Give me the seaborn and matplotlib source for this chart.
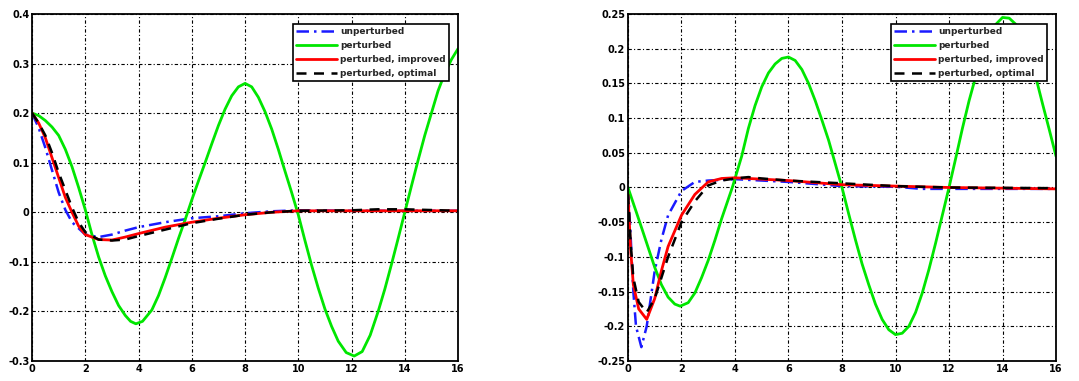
import numpy as np
import pandas as pd
import matplotlib
matplotlib.use("Agg")
import matplotlib.pyplot as plt
import seaborn as sns

# ---------------- data ----------------
# Left panel
L_green_t = [0, 0.25, 0.5, 0.75, 1.0, 1.25, 1.5, 1.75, 2.0, 2.25, 2.5, 2.75, 3.0, 3.25, 3.5, 3.7, 3.9, 4.15, 4.5,
             4.75, 5.0, 5.25, 5.5, 5.75, 6.0, 6.25, 6.5, 6.75, 7.0, 7.25, 7.5, 7.75, 8.0, 8.25, 8.5, 8.75, 9.0, 9.25,
             9.5, 9.75, 10.0, 10.25, 10.5, 10.75, 11.0, 11.25, 11.5, 11.8, 12.1, 12.4, 12.7, 13.0, 13.25, 13.5,
             13.75, 14.0, 14.25, 14.5, 14.75, 15.0, 15.25, 15.5, 15.75, 16.0]
L_green_y = [0.2, 0.195, 0.185, 0.172, 0.155, 0.127, 0.092, 0.05, 0.005, -0.045, -0.09, -0.128, -0.16, -0.188,
             -0.208, -0.22, -0.225, -0.22, -0.197, -0.168, -0.132, -0.093, -0.053, -0.015, 0.025, 0.063, 0.1, 0.138,
             0.175, 0.208, 0.235, 0.253, 0.26, 0.253, 0.232, 0.203, 0.168, 0.127, 0.083, 0.04, -0.005, -0.057,
             -0.107, -0.153, -0.195, -0.23, -0.26, -0.283, -0.29, -0.281, -0.248, -0.2, -0.155, -0.105, -0.053, 0.0,
             0.053, 0.105, 0.155, 0.2, 0.245, 0.28, 0.308, 0.33]

L_blue_t = [0, 0.25, 0.5, 0.75, 1.0, 1.25, 1.5, 2.0, 2.5, 3.0, 3.5, 4.0, 5.0, 6.0, 7.0, 8.0, 9.0, 10.0, 12.0, 14.0, 16.0]
L_blue_y = [0.2, 0.17, 0.13, 0.085, 0.04, 0.005, -0.02, -0.045, -0.05, -0.045, -0.037, -0.03, -0.02, -0.012, -0.008,
            -0.002, 0.002, 0.004, 0.003, 0.003, 0.003]

L_red_t = [0, 0.25, 0.5, 0.75, 1.0, 1.25, 1.5, 1.75, 2.0, 2.5, 3.0, 3.5, 4.0, 5.0, 6.0, 7.0, 8.0, 9.0, 10.0, 12.0, 14.0,
           16.0]
L_red_y = [0.2, 0.18, 0.15, 0.11, 0.07, 0.03, 0.0, -0.028, -0.045, -0.055, -0.056, -0.05, -0.043, -0.03, -0.02,
           -0.012, -0.005, 0.0, 0.003, 0.003, 0.003, 0.003]

L_black_t = [0, 0.25, 0.5, 0.75, 1.0, 1.25, 1.5, 1.75, 2.0, 2.5, 3.0, 3.5, 4.0, 5.0, 6.0, 7.0, 8.0, 9.0, 10.0, 12.0,
             13.0, 14.0, 16.0]
L_black_y = [0.2, 0.18, 0.155, 0.12, 0.08, 0.045, 0.01, -0.02, -0.04, -0.055, -0.057, -0.055, -0.048, -0.035,
             -0.022, -0.013, -0.005, 0.0, 0.003, 0.004, 0.006, 0.006, 0.003]

# Right panel
R_green_t = [0, 0.5, 1.0, 1.25, 1.5, 1.75, 1.95, 2.25, 2.5, 2.75, 3.0, 3.25, 3.5, 3.9, 4.25, 4.5, 4.75, 5.0, 5.25,
             5.5, 5.75, 6.0, 6.25, 6.5, 6.75, 7.0, 7.25, 7.5, 8.0, 8.25, 8.5, 8.75, 9.0, 9.25, 9.5, 9.75, 10.0,
             10.25, 10.5, 10.75, 11.0, 11.25, 11.5, 12.0, 12.25, 12.5, 12.75, 13.0, 13.25, 13.5, 13.75, 14.0, 14.25,
             14.5, 14.75, 15.0, 15.25, 15.5, 15.75, 16.0]
R_green_y = [0.0, -0.057, -0.115, -0.14, -0.158, -0.168, -0.171, -0.166, -0.152, -0.13, -0.105, -0.076, -0.045,
             0.0, 0.045, 0.085, 0.118, 0.145, 0.165, 0.178, 0.186, 0.188, 0.183, 0.17, 0.15, 0.125, 0.097, 0.068,
             0.0, -0.038, -0.075, -0.11, -0.14, -0.168, -0.19, -0.205, -0.212, -0.21, -0.2, -0.18, -0.152, -0.118,
             -0.08, 0.0, 0.042, 0.085, 0.125, 0.16, 0.19, 0.215, 0.235, 0.245, 0.244, 0.235, 0.217, 0.19, 0.158,
             0.12, 0.083, 0.045]

R_blue_t = [0, 0.1, 0.2, 0.3, 0.5, 0.7, 1.0, 1.25, 1.5, 2.0, 2.5, 3.0, 4.0, 5.0, 6.0, 8.0, 10.0, 11.0, 16.0]
R_blue_y = [0.0, -0.07, -0.15, -0.2, -0.23, -0.2, -0.12, -0.075, -0.04, -0.005, 0.008, 0.01, 0.012, 0.01, 0.008,
            0.002, 0.001, -0.002, -0.002]

R_red_t = [0, 0.1, 0.2, 0.4, 0.7, 1.0, 1.25, 1.5, 2.0, 2.5, 3.0, 3.5, 4.0, 5.0, 6.0, 7.0, 8.0, 10.0, 12.0, 16.0]
R_red_y = [-0.01, -0.09, -0.14, -0.175, -0.19, -0.16, -0.12, -0.085, -0.04, -0.01, 0.008, 0.013, 0.014, 0.012,
           0.01, 0.007, 0.004, 0.002, 0.0, -0.002]

R_black_t = [0, 0.1, 0.2, 0.4, 0.7, 1.0, 1.25, 1.5, 2.0, 2.5, 3.0, 3.5, 4.0, 4.5, 5.0, 6.0, 7.0, 8.0, 9.0, 10.0,
             12.0, 16.0]
R_black_y = [-0.01, -0.08, -0.13, -0.165, -0.18, -0.16, -0.13, -0.1, -0.05, -0.02, 0.003, 0.01, 0.013, 0.015,
             0.013, 0.01, 0.008, 0.006, 0.004, 0.002, 0.0, -0.001]

series_names = ["unperturbed", "perturbed", "perturbed, improved", "perturbed, optimal"]

x_ticks = [0, 2, 4, 6, 8, 10, 12, 14, 16]
x_ticklabels = ["0", "2", "4", "6", "8", "10", "12", "14", "16"]
L_yticks = [-0.3, -0.2, -0.1, 0, 0.1, 0.2, 0.3, 0.4]
L_yticklabels = ["-0.3", "-0.2", "-0.1", "0", "0.1", "0.2", "0.3", "0.4"]
R_yticks = [-0.25, -0.2, -0.15, -0.1, -0.05, 0, 0.05, 0.1, 0.15, 0.2, 0.25]
R_yticklabels = ["-0.25", "-0.2", "-0.15", "-0.1", "-0.05", "0", "0.05", "0.1", "0.15", "0.2", "0.25"]

# ---------------- plotting ----------------
sns.set_style("white")
plt.rcParams['font.family'] = ['DejaVu Sans']

fig = plt.figure(figsize=(10.79, 3.81), dpi=100)
axL = fig.add_axes([0.0297, 0.0525, 0.3948, 0.9108])
axR = fig.add_axes([0.582, 0.0525, 0.3967, 0.9108])

styles = [
    dict(color="#1a1aff", linestyle=(0, (5, 2, 1, 2)), lw=1.8),
    dict(color="#00e600", linestyle="-", lw=2.0),
    dict(color="#ff0000", linestyle="-", lw=2.0),
    dict(color="black", linestyle=(0, (4, 3)), lw=1.8),
]

def panel(ax, data, yticks, yticklabels, ylim):
    for (t, y), name, st in zip(data, series_names, styles):
        df = pd.DataFrame({"t": t, "y": y})
        sns.lineplot(data=df, x="t", y="y", ax=ax, color=st["color"], linestyle=st["linestyle"],
                     linewidth=st["lw"], label=name, estimator=None, sort=False)
    ax.set_xlim(0, 16)
    ax.set_ylim(*ylim)
    ax.set_xticks(x_ticks)
    ax.set_xticklabels(x_ticklabels)
    ax.set_yticks(yticks)
    ax.set_yticklabels(yticklabels)
    ax.set_xlabel("")
    ax.set_ylabel("")
    ax.grid(True, color="black", linestyle=(0, (3, 2, 1, 2)), linewidth=0.8)
    ax.tick_params(direction="in", length=3, labelsize=7, pad=2, colors="black")
    for lab in ax.get_xticklabels() + ax.get_yticklabels():
        lab.set_fontweight("bold")
    for s in ax.spines.values():
        s.set_visible(True)
        s.set_color("black")
        s.set_linewidth(1.3)
    leg = ax.legend(loc="upper right", fontsize=6.5, frameon=True, fancybox=False,
                    handlelength=4.5, borderpad=0.35, labelspacing=0.55, handletextpad=0.4,
                    bbox_to_anchor=(0.99, 0.985))
    leg.get_frame().set_edgecolor("black")
    leg.get_frame().set_linewidth(1.2)
    leg.get_frame().set_alpha(1)
    for txt in leg.get_texts():
        txt.set_fontweight("bold")

panel(axL, [(L_blue_t, L_blue_y), (L_green_t, L_green_y), (L_red_t, L_red_y), (L_black_t, L_black_y)],
      L_yticks, L_yticklabels, (-0.3, 0.4))
panel(axR, [(R_blue_t, R_blue_y), (R_green_t, R_green_y), (R_red_t, R_red_y), (R_black_t, R_black_y)],
      R_yticks, R_yticklabels, (-0.25, 0.25))

fig.savefig("out.png", dpi=100)
